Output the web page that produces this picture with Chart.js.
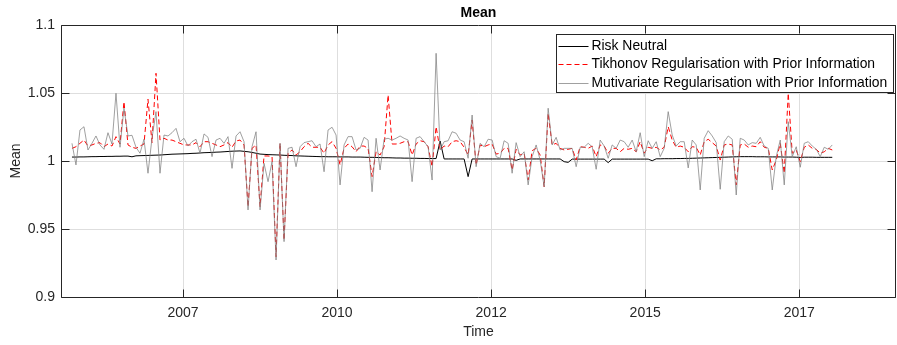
<!DOCTYPE html>
<html><head><meta charset="utf-8">
<script src="https://cdn.jsdelivr.net/npm/chart.js@4.4.1/dist/chart.umd.min.js"></script>
<style>html,body{margin:0;padding:0;background:#fff;overflow:hidden}canvas{display:block}</style>
</head><body>
<canvas id="c" width="897" height="345"></canvas>
<script>
// ---- data ----
const chartTitle = 'Mean';
const xAxisTitle = 'Time';
const yAxisTitle = 'Mean';
const seriesNames = ['Risk Neutral', 'Tikhonov Regularisation with Prior Information', 'Mutivariate Regularisation with Prior Information'];
const xTickValues = [2007.5, 2010, 2012.5, 2015, 2017.5];
const xTickLabels = ['2007', '2010', '2012', '2015', '2017'];
const yTickValues = [0.9, 0.95, 1, 1.05, 1.1];
const yTickLabels = ['0.9', '0.95', '1', '1.05', '1.1'];
const xMin = 2005.52, xMax = 2019.07;
const startYear = 2005.698;   // first observation (decimal year)
const stepYears = 0.064935;   // sampling interval (decimal years)

const riskNeutral = [
1.0029,1.0029,1.0030,1.0030,1.0031,1.0032,1.0032,1.0033,1.0033,1.0034,1.0034,1.0035,1.0035,1.0036,1.0036,
1.0031,1.0038,1.0039,1.0040,1.0041,1.0042,1.0043,1.0044,1.0046,1.0048,1.0050,1.0051,1.0052,1.0053,1.0054,
1.0056,1.0057,1.0059,1.0061,1.0062,1.0063,1.0065,1.0066,1.0068,1.0070,1.0072,1.0073,1.0074,1.0071,1.0068,
1.0063,1.0057,1.0051,1.0049,1.0047,1.0046,1.0045,1.0044,1.0042,1.0041,1.0040,1.0038,1.0037,1.0036,1.0035,1.0034,1.0033,
1.0032,1.0032,1.0031,1.0031,1.0031,1.0030,1.0030,1.0030,1.0029,1.0029,1.0029,1.0028,1.0027,1.0027,1.0026,
1.0025,1.0024,1.0024,1.0023,1.0022,1.0022,1.0021,1.0021,1.0020,1.0020,1.0019,1.0019,1.0018,1.0018,1.0018,
1.0147,
1.0015,1.0015,1.0015,1.0015,1.0015,1.0015,
0.9885,
1.0015,1.0015,1.0015,1.0015,1.0015,1.0015,1.0015,1.0015,1.0015,1.0015,1.0015,
1.0005,
1.0015,1.0015,1.0015,1.0015,1.0015,1.0015,1.0015,1.0015,1.0015,1.0015,1.0015,
0.9995,0.9990,
1.0014,1.0014,1.0014,1.0014,1.0014,1.0014,1.0014,1.0014,1.0014,
0.9988,
1.0014,1.0014,1.0014,1.0014,1.0014,1.0014,1.0014,1.0014,1.0014,1.0014,
1.0002,
1.0016,1.0016,1.0017,1.0017,1.0017,1.0018,1.0018,1.0019,1.0019,
1.0020,1.0021,1.0022,1.0023,1.0024,1.0025,1.0026,1.0027,1.0028,1.0029,1.0030,
1.0031,1.0032,1.0032,1.0032,1.0032,1.0031,1.0031,1.0031,1.0030,1.0030,1.0030,1.0030,1.0029,1.0029,1.0029,
1.0028,1.0026,1.0028,1.0028,1.0028,1.0027,1.0027,1.0027,1.0027,1.0027
];

const tikhonov = [
1.0093,1.0105,1.0130,1.0154,1.0110,1.0118,1.0130,1.0135,1.0105,1.0125,
1.0110,1.0179,1.0125,1.0436,1.0118,1.0101,1.0093,1.0110,1.0125,1.0454,
1.0135,1.0645,1.0154,1.0167,1.0154,1.0154,1.0142,1.0130,1.0118,1.0118,
1.0118,1.0135,1.0105,1.0142,1.0142,1.0130,1.0118,1.0105,1.0118,1.0135,
1.0101,1.0147,1.0154,1.0118,0.9664,1.0093,1.0118,0.9664,1.0037,1.0037,
1.0032,0.9296,1.0130,0.9419,1.0057,1.0081,1.0044,1.0068,1.0105,1.0130,
1.0101,1.0101,1.0101,1.0057,1.0118,1.0142,1.0093,0.9971,1.0093,1.0125,
1.0105,1.0068,1.0110,1.0110,1.0093,0.9885,1.0068,1.0044,1.0105,1.0485,
1.0125,1.0125,1.0130,1.0142,1.0142,1.0044,1.0125,1.0149,1.0142,1.0105,
0.9958,1.0252,1.0081,1.0110,1.0105,1.0142,1.0149,1.0142,1.0101,1.0044,
1.0301,0.9971,1.0118,1.0105,1.0118,1.0125,1.0051,1.0057,1.0093,1.0093,
0.9934,1.0086,1.0044,1.0057,0.9860,1.0076,1.0093,1.0044,0.9811,1.0351,
1.0118,1.0130,1.0093,1.0081,1.0086,1.0093,1.0007,1.0105,1.0101,1.0093,
1.0110,1.0032,1.0118,1.0110,1.0057,1.0093,1.0093,1.0068,1.0093,1.0086,
1.0093,1.0068,1.0142,1.0057,1.0101,1.0093,1.0101,1.0081,1.0101,1.0252,
1.0154,1.0101,1.0110,1.0101,1.0068,1.0105,1.0101,1.0044,1.0142,1.0160,
1.0135,1.0110,1.0007,1.0118,1.0125,1.0118,0.9824,1.0118,1.0125,1.0101,
1.0110,1.0105,1.0142,1.0101,1.0093,0.9934,1.0007,1.0130,0.9910,1.0498,
1.0057,1.0081,0.9995,1.0101,1.0118,1.0093,1.0086,1.0057,1.0068,1.0093,1.0081
];

const mutivariate = [
1.0130,0.9971,1.0228,1.0252,1.0081,1.0130,1.0184,1.0118,1.0086,1.0208,
1.0125,1.0498,1.0101,1.0388,1.0184,1.0189,1.0101,1.0057,1.0160,0.9910,
1.0167,1.0363,0.9910,1.0191,1.0184,1.0208,1.0240,1.0142,1.0167,1.0110,
1.0142,1.0160,1.0057,1.0199,1.0174,1.0032,1.0154,1.0167,1.0130,1.0179,
0.9946,1.0184,1.0215,1.0142,0.9640,1.0105,1.0215,0.9640,0.9983,0.9848,
0.9995,0.9272,1.0130,0.9407,1.0093,1.0101,0.9958,1.0105,1.0135,1.0142,
1.0149,1.0105,1.0125,0.9921,1.0228,1.0248,1.0191,0.9824,1.0118,1.0179,
1.0179,1.0081,1.0093,1.0174,1.0154,0.9774,1.0167,0.9934,1.0160,1.0167,
1.0154,1.0167,1.0184,1.0167,1.0154,0.9848,1.0167,1.0179,1.0142,1.0105,
0.9860,1.0792,1.0081,1.0142,1.0149,1.0215,1.0204,1.0154,1.0142,1.0020,
1.0338,0.9958,1.0130,1.0105,1.0160,1.0154,1.0032,1.0020,1.0149,1.0130,
0.9910,1.0135,1.0032,1.0068,0.9824,1.0032,1.0118,1.0007,0.9811,1.0388,
1.0118,1.0174,1.0081,1.0093,1.0093,1.0093,0.9958,1.0101,1.0101,1.0130,
1.0105,0.9939,1.0154,1.0110,1.0020,1.0118,1.0093,1.0154,1.0142,1.0101,
1.0154,1.0068,1.0208,1.0032,1.0149,1.0093,1.0142,1.0032,1.0093,1.0363,
1.0191,1.0110,1.0142,1.0142,0.9949,1.0154,1.0118,0.9787,1.0167,1.0223,
1.0184,1.0135,0.9792,1.0142,1.0184,1.0160,0.9750,1.0167,1.0154,1.0118,
1.0135,1.0130,1.0174,1.0110,1.0093,0.9787,1.0032,1.0154,0.9824,1.0289,
1.0032,1.0105,0.9954,1.0130,1.0142,1.0110,1.0086,1.0032,1.0101,1.0086,1.0118
];

// ---- build ----
const toPoints = arr => arr.map((v, i) => ({ x: startYear + i * stepYears, y: v }));
const AXIS = '#262626';
const FONT = "'Liberation Sans', Arial, Helvetica, sans-serif";
Chart.defaults.font.family = FONT;
Chart.defaults.font.size = 14;
Chart.defaults.color = AXIS;

const boxPlugin = {
  id: 'matlabBox',
  afterDraw(chart) {
    const { ctx, chartArea: a, scales } = chart;
    const L = Math.round(a.left) + 0.5, R = Math.round(a.right) - 0.5;
    const T = Math.round(a.top) + 0.5, B = Math.round(a.bottom) + 0.5;
    ctx.save();
    // legend
    const lx = 556.5, ly = 34.5, lw = 337, lh = 58;
    ctx.fillStyle = '#fff';
    ctx.fillRect(lx, ly, lw, lh);
    ctx.strokeStyle = AXIS; ctx.lineWidth = 1;
    ctx.strokeRect(lx, ly, lw, lh);
    const styles = [
      { c: '#000000', d: [] },
      { c: '#ff0000', d: [5, 3] },
      { c: 'rgba(128,128,128,0.75)', d: [] }
    ];
    ctx.font = '13.9px ' + FONT;
    ctx.textBaseline = 'middle';
    ctx.textAlign = 'left';
    seriesNames.forEach((name, i) => {
      const yy = Math.round(ly + 11 + i * 18.8) + 0.5;
      ctx.beginPath();
      ctx.setLineDash(styles[i].d);
      ctx.strokeStyle = styles[i].c;
      ctx.lineWidth = 1;
      ctx.moveTo(lx + 2, yy); ctx.lineTo(lx + 32, yy);
      ctx.stroke();
      ctx.setLineDash([]);
      ctx.fillStyle = '#000';
      ctx.fillText(name, lx + 35, yy);
    });
    // box
    ctx.strokeStyle = AXIS; ctx.lineWidth = 1;
    ctx.beginPath();
    ctx.moveTo(L, T); ctx.lineTo(R, T); ctx.lineTo(R, B); ctx.lineTo(L, B); ctx.closePath();
    ctx.stroke();
    // inward ticks
    const tl = 8;
    ctx.beginPath();
    xTickValues.forEach(v => {
      const px = Math.round(scales.x.getPixelForValue(v)) + 0.5;
      ctx.moveTo(px, B); ctx.lineTo(px, B - tl);
      ctx.moveTo(px, T); ctx.lineTo(px, T + tl);
    });
    yTickValues.forEach(v => {
      const py = Math.round(scales.y.getPixelForValue(v)) + 0.5;
      ctx.moveTo(L, py); ctx.lineTo(L + tl, py);
      ctx.moveTo(R, py); ctx.lineTo(R - tl, py);
    });
    ctx.stroke();
    ctx.restore();
  }
};

new Chart(document.getElementById('c'), {
  type: 'line',
  data: {
    datasets: [
      { label: seriesNames[0], data: toPoints(riskNeutral), borderColor: '#000000', borderWidth: 1, pointRadius: 0, tension: 0, order: 2 },
      { label: seriesNames[1], data: toPoints(tikhonov), borderColor: '#ff0000', borderWidth: 1, borderDash: [5, 3], pointRadius: 0, tension: 0, order: 1 },
      { label: seriesNames[2], data: toPoints(mutivariate), borderColor: 'rgba(128,128,128,0.75)', borderWidth: 1, pointRadius: 0, tension: 0, order: 0 }
    ]
  },
  options: {
    responsive: false,
    animation: false,
    events: [],
    devicePixelRatio: 1,
    layout: { padding: { top: 0, right: 1, bottom: 0, left: 0 } },
    plugins: {
      legend: { display: false },
      tooltip: { enabled: false },
      title: {
        display: true, text: chartTitle, fullSize: false, color: '#000',
        font: { family: FONT, size: 14, weight: 'bold' },
        padding: { top: 4.5, bottom: 3.7 }
      }
    },
    scales: {
      x: {
        type: 'linear', min: xMin, max: xMax,
        afterBuildTicks: s => { s.ticks = xTickValues.map(v => ({ value: v })); },
        afterFit: s => { s.height = 48; },
        ticks: { autoSkip: false, maxRotation: 0, padding: 8, color: AXIS,
          callback: (v, i) => xTickLabels[i] },
        grid: { color: '#dedede', drawTicks: false },
        border: { display: false },
        title: { display: true, text: xAxisTitle, color: AXIS, padding: { top: 0, bottom: 4 }, font: { size: 14 } }
      },
      y: {
        type: 'linear', min: 0.9, max: 1.1,
        afterBuildTicks: s => { s.ticks = yTickValues.map(v => ({ value: v })); },
        afterFit: s => { s.width = 61; },
        ticks: { padding: 6, color: AXIS, callback: (v, i) => yTickLabels[i] },
        grid: { color: '#dedede', drawTicks: false },
        border: { display: false },
        title: { display: true, text: yAxisTitle, color: AXIS, padding: { top: 8, bottom: 0 }, font: { size: 14 } }
      }
    }
  },
  plugins: [boxPlugin]
});
</script>
</body></html>
